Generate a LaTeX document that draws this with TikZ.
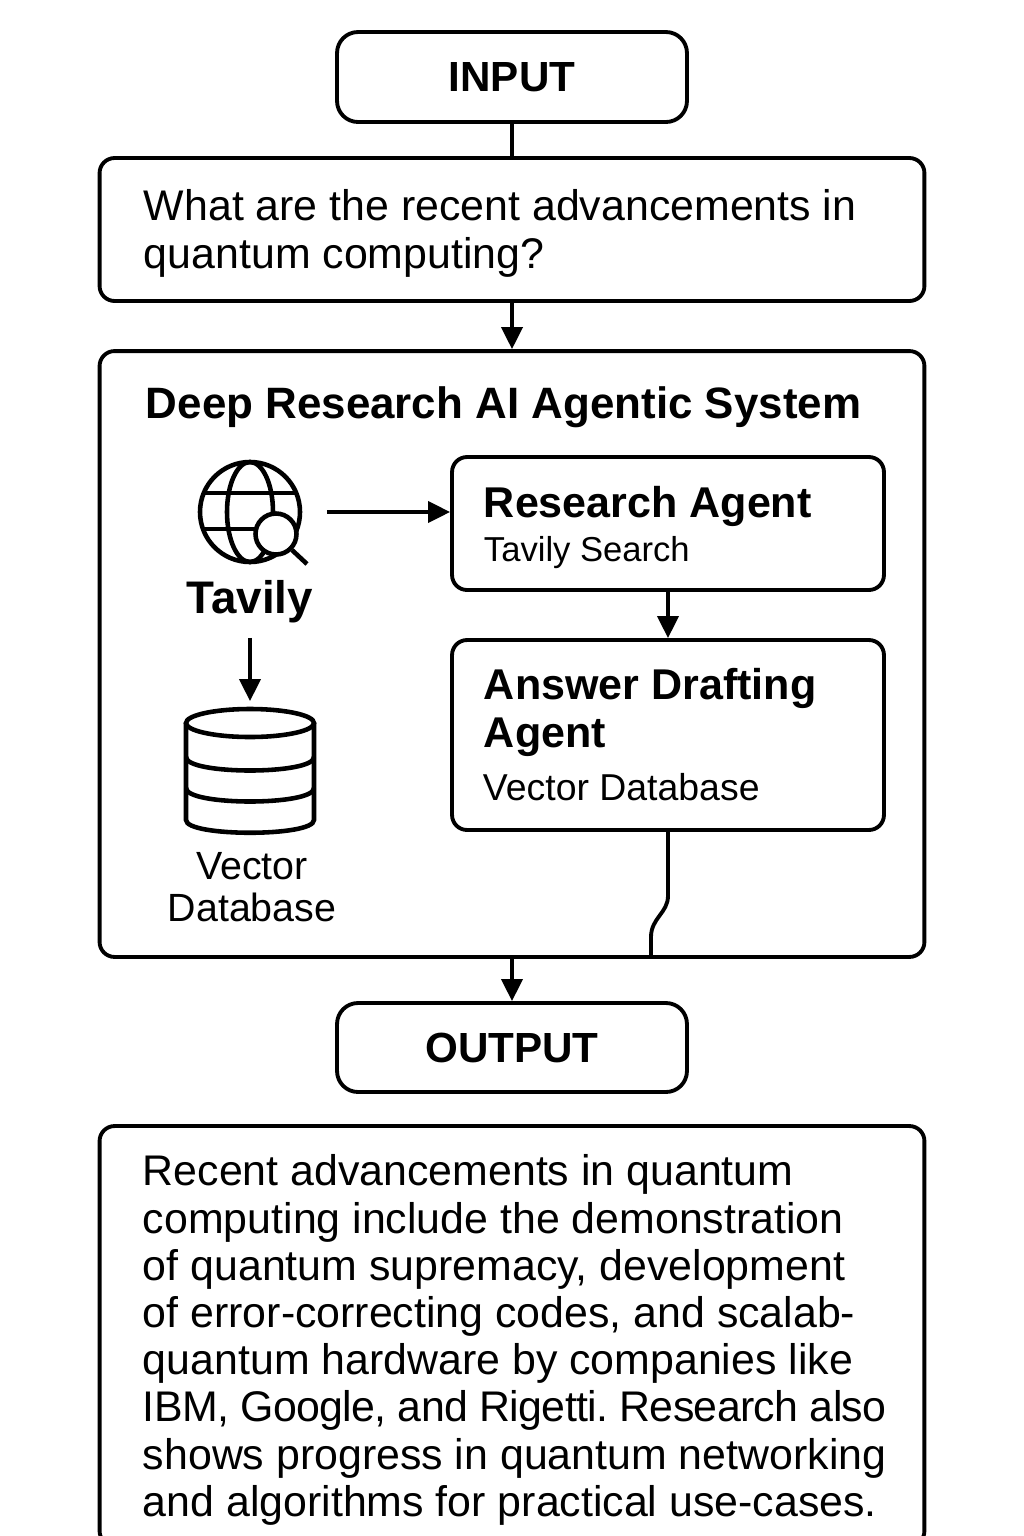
\documentclass[tikz,border=0pt]{standalone}
\usepackage{fontspec}
\setmainfont{Liberation Sans}
\usetikzlibrary{arrows.meta}
\frenchspacing

\begin{document}
\begin{tikzpicture}[x=0.02cm,y=-0.02cm,line width=2.2pt,
  box/.style={draw,rounded corners=0.3cm,minimum width=16.5cm,inner sep=0pt},
  inner box/.style={draw,rounded corners=0.3cm,minimum width=8.64cm,inner sep=0pt},
  term box/.style={draw,rounded corners=0.42cm,minimum width=7cm,minimum height=1.8cm,inner sep=0pt,font=\fontsize{24}{28}\selectfont\bfseries},
  txt/.style={anchor=west,align=left,inner sep=0pt},
  body/.style={txt,font=\fontsize{24.4}{27.4}\selectfont},
  head/.style={txt,font=\fontsize{24.5}{27}\selectfont\bfseries},
  icon/.style={line width=2.6pt},
  conn/.style={-{Triangle[length=0.44cm,width=0.42cm]}}
]
\useasboundingbox (0,0) rectangle (1024,1536);
\clip (0,0) rectangle (1024,1536);

\node[term box] (input) at (512,77) {\raisebox{-1pt}{INPUT}};
\node[box,minimum height=2.86cm] (query) at (512,229.5) {};
\node[body] (querytext) at (142,233) {What are the recent advancements in\\quantum computing?};

\node[box,minimum height=12.12cm] (system) at (512,654) {};
\node[head,font=\fontsize{25}{27}\selectfont\bfseries] (systitle) at (144,407) {Deep Research AI Agentic System};

% search icon
\node[minimum width=3cm,minimum height=2cm,inner sep=0pt] (globe) at (250,512) {};
\draw[icon] (250,512) circle [radius=50];
\draw[icon] (250,512) ellipse [x radius=23,y radius=50];
\draw[icon] (204,493) -- (296,493);
\draw[icon] (203,529) -- (260,529);
\draw[icon,fill=white] (276,534) circle [radius=20.5];
\draw[icon] (292,550) -- (307,564);
\node[font=\fontsize{26}{30}\selectfont\bfseries,inner sep=0pt,minimum height=1.36cm] (tavily) at (250,602) {Tavily};

% database icon
\node[minimum width=2.56cm,minimum height=2.68cm,inner sep=0pt] (db) at (250,770) {};
\draw[icon] (250,723) ellipse [x radius=64,y radius=14];
\draw[icon] (186,723) -- (186,820) .. controls (186,837) and (314,837) .. (314,820) -- (314,723);
\draw[icon] (186,757) .. controls (186,775) and (314,775) .. (314,757);
\draw[icon] (186,788) .. controls (186,806) and (314,806) .. (314,788);
\node[font=\fontsize{22.4}{23.5}\selectfont,align=center,inner sep=0pt] (dblabel) at (252,887) {Vector\\Database};

\node[inner box,minimum height=2.66cm] (research) at (668,523.5) {};
\node[head] (researchhead) at (482,506) {Research Agent};
\node[txt,font=\fontsize{19.7}{24}\selectfont] (researchsub) at (482,553) {Tavily Search};
\node[inner box,minimum height=3.8cm] (draft) at (668,735) {};
\node[head] (drafthead) at (482,712.5) {Answer Drafting\\Agent};
\node[txt,font=\fontsize{21.3}{24}\selectfont] (draftsub) at (481,787) {Vector Database};

\node[term box,minimum height=1.78cm] (output) at (512,1047.5) {\raisebox{-0.5pt}{OUTPUT}};
\node[box,minimum height=8.4cm] (answer) at (512,1336) {};
\node[body,font=\fontsize{24.4}{26.85}\selectfont] (answertext) at (141,1340) {Recent advancements in quantum\\computing include the demonstration\\of quantum supremacy, development\\of error-correcting codes, and scalab-\\quantum hardware by companies like\\{\addfontfeatures{LetterSpace=-1.5}IBM, Google, and Rigetti. Research also}\\shows progress in quantum networking\\and algorithms for practical use-cases.};

\coordinate (jogend) at (651,957);
\draw (input.south) -- (query.north);
\draw[conn] (query.south) -- (system.north);
\draw[conn] (globe.east) -- (globe.east -| research.west);
\draw[conn] (tavily.south) -- (db.north);
\draw[conn] (research.south) -- (draft.north);
\draw (draft.south) -- ++(0,64) .. controls ++(0,17) and (651,918) .. (651,937) -- (jogend);
\draw[conn] (system.south) -- (output.north);
\end{tikzpicture}
\end{document}
